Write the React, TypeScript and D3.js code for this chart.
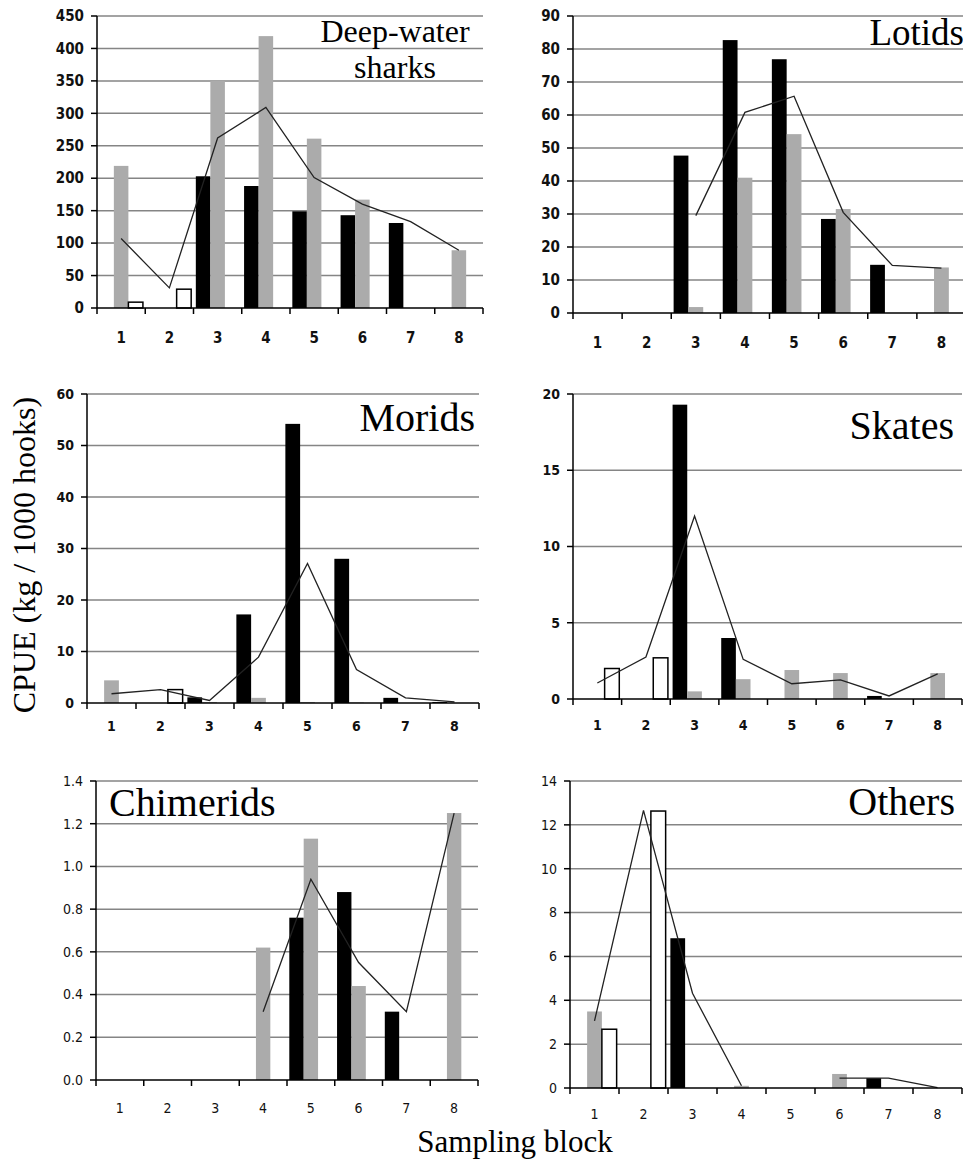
import React from 'react';
import * as d3 from 'd3';

// ---------- data ----------
const categories = ['1', '2', '3', '4', '5', '6', '7', '8'];

const sharksBlack = [null, null, 203, 188, 149, 143, 131, null];
const sharksGray = [219, null, 350, 419, 261, 167, null, 89];
const sharksWhite = [9, 29, null, null, null, null, null, null];
const sharksLine = [107, 31, 262, 309, 201, 160, 133, 89];

const lotidsBlack = [null, null, 47.7, 82.7, 76.9, 28.5, 14.6, null];
const lotidsGray = [null, null, 1.8, 41, 54.2, 31.5, null, 13.8];
const lotidsWhite = [null, null, null, null, null, null, null, null];
const lotidsLine = [null, null, 29.5, 60.8, 65.7, 30.5, 14.4, 13.6];

const moridsBlack = [null, null, 1.1, 17.2, 54.2, 28.0, 1.0, 0.2];
const moridsGray = [4.4, null, 0.2, 1.0, 0.2, 0.1, null, null];
const moridsWhite = [null, 2.6, null, null, null, null, null, null];
const moridsLine = [1.8, 2.6, 0.5, 8.9, 27.1, 6.5, 1.0, 0.2];

const skatesBlack = [null, null, 19.3, 4.0, null, null, 0.2, null];
const skatesGray = [null, null, 0.5, 1.3, 1.9, 1.7, null, 1.7];
const skatesWhite = [2.0, 2.7, null, null, null, null, null, null];
const skatesLine = [1.05, 2.75, 12.0, 2.6, 1.0, 1.25, 0.2, 1.65];

const chimBlack = [null, null, null, null, 0.76, 0.88, 0.32, null];
const chimGray = [null, null, null, 0.62, 1.13, 0.44, null, 1.25];
const chimWhite = [null, null, null, null, null, null, null, null];
const chimLine = [null, null, null, 0.32, 0.94, 0.55, 0.32, 1.25];

const othersBlack = [null, null, 6.83, null, null, null, 0.45, null];
const othersGray = [3.49, null, null, 0.1, null, 0.64, null, null];
const othersWhite = [2.68, 12.63, null, null, null, null, null, null];
const othersLine = [3.06, 12.66, 4.32, 0.1, null, 0.45, 0.45, 0.02];

const sharksTicks = [0, 50, 100, 150, 200, 250, 300, 350, 400, 450];
const lotidsTicks = [0, 10, 20, 30, 40, 50, 60, 70, 80, 90];
const moridsTicks = [0, 10, 20, 30, 40, 50, 60];
const skatesTicks = [0, 5, 10, 15, 20];
const chimTicks = [0, 0.2, 0.4, 0.6, 0.8, 1.0, 1.2, 1.4];
const othersTicks = [0, 2, 4, 6, 8, 10, 12, 14];

// ---------- layout ----------
const panels = [
  {
    title: ['Deep-water', 'sharks'], black: sharksBlack, gray: sharksGray, white: sharksWhite, line: sharksLine,
    ticks: sharksTicks, fmt: (v: number) => String(v),
    x0: 97, x1: 483, yTop: 16, y0: 308, labelDy: 35, tickFont: 15, tickWeight: 'bold',
    titleX: 395, titleY: 42, titleAnchor: 'middle', titleSize: 32, titleLineH: 36,
  },
  {
    title: ['Lotids'], black: lotidsBlack, gray: lotidsGray, white: lotidsWhite, line: lotidsLine,
    ticks: lotidsTicks, fmt: (v: number) => String(v),
    x0: 573, x1: 966, yTop: 16, y0: 313, labelDy: 35, tickFont: 15, tickWeight: 'bold',
    titleX: 964, titleY: 45, titleAnchor: 'end', titleSize: 37, titleLineH: 0,
  },
  {
    title: ['Morids'], black: moridsBlack, gray: moridsGray, white: moridsWhite, line: moridsLine,
    ticks: moridsTicks, fmt: (v: number) => String(v),
    x0: 87, x1: 479, yTop: 394, y0: 703, labelDy: 28, tickFont: 14, tickWeight: 'bold',
    titleX: 475, titleY: 431, titleAnchor: 'end', titleSize: 40, titleLineH: 0,
  },
  {
    title: ['Skates'], black: skatesBlack, gray: skatesGray, white: skatesWhite, line: skatesLine,
    ticks: skatesTicks, fmt: (v: number) => String(v),
    x0: 573, x1: 962, yTop: 394, y0: 699, labelDy: 31, tickFont: 14, tickWeight: 'bold',
    titleX: 954, titleY: 439, titleAnchor: 'end', titleSize: 40, titleLineH: 0,
  },
  {
    title: ['Chimerids'], black: chimBlack, gray: chimGray, white: chimWhite, line: chimLine,
    ticks: chimTicks, fmt: d3.format('.1f'),
    x0: 96, x1: 478, yTop: 781, y0: 1080, labelDy: 33, tickFont: 14, tickWeight: 'normal',
    titleX: 109, titleY: 816, titleAnchor: 'start', titleSize: 40, titleLineH: 0,
  },
  {
    title: ['Others'], black: othersBlack, gray: othersGray, white: othersWhite, line: othersLine,
    ticks: othersTicks, fmt: (v: number) => String(v),
    x0: 570, x1: 962, yTop: 781, y0: 1088, labelDy: 31, tickFont: 14, tickWeight: 'normal',
    titleX: 955, titleY: 815, titleAnchor: 'end', titleSize: 40, titleLineH: 0,
  },
];

const SERIF = '"Liberation Serif", "Times New Roman", serif';
const SANS = '"DejaVu Sans Condensed", "DejaVu Sans", sans-serif';
const GRAY = '#ababab';
const GRID = '#858585';

function Panel({ p }: { p: any }) {
  const max = p.ticks[p.ticks.length - 1];
  const y = d3.scaleLinear().domain([0, max]).range([p.y0, p.yTop]);
  const x = d3.scaleBand<string>().domain(categories).range([p.x0, p.x1]).padding(0);
  const bw = x.bandwidth();
  const sub = d3.scaleBand<string>().domain(['black', 'gray', 'white']).range([0, bw]).paddingInner(0).paddingOuter(0.16);
  const sw = sub.bandwidth();
  const series: [string, (number | null)[], string][] = [
    ['black', p.black, '#000'],
    ['gray', p.gray, GRAY],
    ['white', p.white, '#fff'],
  ];
  const lineGen = d3
    .line<number | null>()
    .defined((d) => d != null)
    .x((_d, i) => (x(categories[i]) as number) + bw / 2)
    .y((d) => y(d as number));
  const boundaries = d3.range(categories.length + 1).map((i) => p.x0 + i * bw);

  return (
    <g>
      {p.ticks.filter((t: number) => t > 0).map((t: number) => (
        <line key={'g' + t} x1={p.x0} x2={p.x1} y1={y(t)} y2={y(t)} stroke={GRID} strokeWidth={1.5} />
      ))}
      {series.map(([key, vals, fill]) =>
        vals.map((v, i) =>
          v == null ? null : (
            <rect
              key={key + i}
              x={(x(categories[i]) as number) + (sub(key) as number)}
              y={y(v)}
              width={sw}
              height={p.y0 - y(v)}
              fill={fill}
              stroke={key === 'white' ? '#000' : 'none'}
              strokeWidth={key === 'white' ? 1.5 : 0}
            />
          )
        )
      )}
      <path d={lineGen(p.line) || ''} fill="none" stroke="#222" strokeWidth={1.3} />
      {/* y axis */}
      <line x1={p.x0} x2={p.x0} y1={p.y0} y2={p.yTop} stroke="#000" strokeWidth={1.5} />
      {p.ticks.map((t: number) => (
        <g key={'yt' + t}>
          <line x1={p.x0 - 6} x2={p.x0} y1={y(t)} y2={y(t)} stroke="#000" strokeWidth={1.5} />
          <text x={p.x0 - 13} y={y(t)} dy="0.35em" textAnchor="end" fontFamily={SANS} fontSize={p.tickFont} fontWeight={p.tickWeight} fill="#111">
            {p.fmt(t)}
          </text>
        </g>
      ))}
      {/* x axis */}
      <line x1={p.x0} x2={p.x1} y1={p.y0} y2={p.y0} stroke="#000" strokeWidth={1.5} />
      {boundaries.map((bx: number, i: number) => (
        <line key={'xt' + i} x1={bx} x2={bx} y1={p.y0} y2={p.y0 + 6} stroke="#000" strokeWidth={1.5} />
      ))}
      {categories.map((c) => (
        <text key={'xl' + c} x={(x(c) as number) + bw / 2} y={p.y0 + p.labelDy} textAnchor="middle" fontFamily={SANS} fontSize={p.tickFont} fontWeight={p.tickWeight} fill="#111">
          {c}
        </text>
      ))}
      {p.title.map((t: string, i: number) => (
        <text key={'t' + i} x={p.titleX} y={p.titleY + i * p.titleLineH} textAnchor={p.titleAnchor} fontFamily={SERIF} fontSize={p.titleSize} fill="#000">
          {t}
        </text>
      ))}
    </g>
  );
}

export default function App() {
  return (
    <svg
      width={963}
      height={1164}
      viewBox="0 0 963 1164"
      style={{ position: 'absolute', left: 0, top: 0, background: '#fff' }}
    >
      <rect x={0} y={0} width={963} height={1164} fill="#fff" />
      {panels.map((p, i) => (
        <Panel key={i} p={p} />
      ))}
      <text x={35} y={555} transform="rotate(-90 35 555)" textAnchor="middle" fontFamily={SERIF} fontSize={32} fill="#000">
        CPUE (kg / 1000 hooks)
      </text>
      <text x={515} y={1152} textAnchor="middle" fontFamily={SERIF} fontSize={31} fill="#000">
        Sampling block
      </text>
    </svg>
  );
}
